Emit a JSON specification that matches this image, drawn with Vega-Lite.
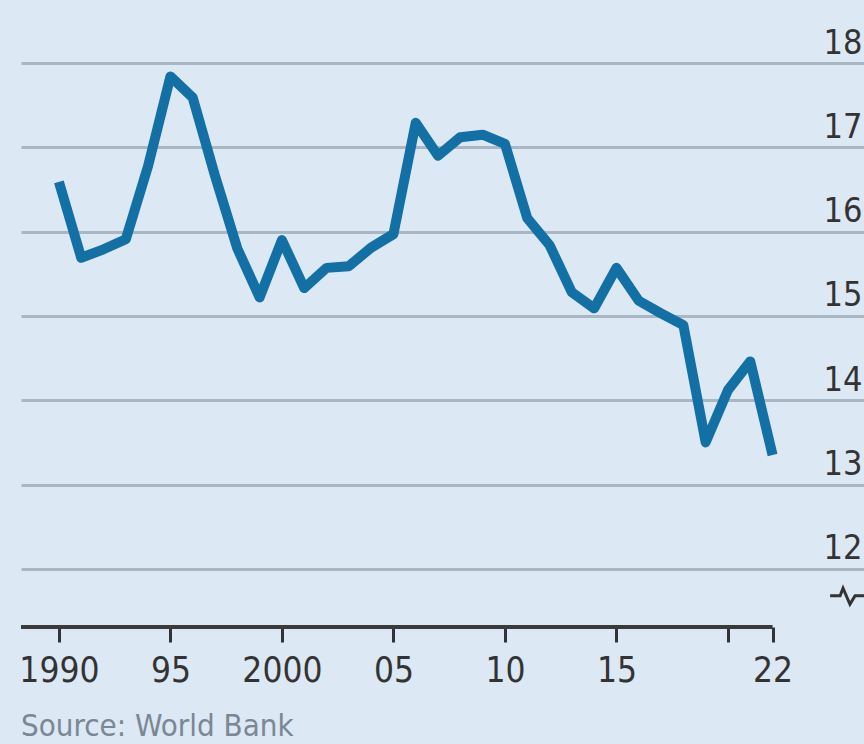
{
  "$schema": "https://vega.github.io/schema/vega-lite/v6.json",
  "width": 843,
  "height": 564,
  "autosize": {"type": "none"},
  "padding": {"left": 21, "top": 63, "right": 0, "bottom": 117},
  "background": "#dce8f4",
  "config": {"view": {"stroke": null}, "font": "'DejaVu Sans Condensed', Roboto, sans-serif"},
  "title": {
    "text": "Source: World Bank",
    "orient": "bottom",
    "anchor": "start",
    "frame": "group",
    "font": "'DejaVu Sans Condensed', Roboto, sans-serif",
    "fontSize": 31,
    "fontWeight": "normal",
    "color": "#7b8794",
    "baseline": "top",
    "offset": 24
  },
  "datasets": {
    "series": [
      {"year": 1990, "value": 16.59},
      {"year": 1991, "value": 15.69},
      {"year": 1992, "value": 15.79},
      {"year": 1993, "value": 15.91},
      {"year": 1994, "value": 16.78},
      {"year": 1995, "value": 17.84},
      {"year": 1996, "value": 17.59},
      {"year": 1997, "value": 16.66},
      {"year": 1998, "value": 15.80},
      {"year": 1999, "value": 15.22},
      {"year": 2000, "value": 15.90},
      {"year": 2001, "value": 15.33},
      {"year": 2002, "value": 15.57},
      {"year": 2003, "value": 15.59},
      {"year": 2004, "value": 15.81},
      {"year": 2005, "value": 15.97},
      {"year": 2006, "value": 17.29},
      {"year": 2007, "value": 16.90},
      {"year": 2008, "value": 17.12},
      {"year": 2009, "value": 17.15},
      {"year": 2010, "value": 17.04},
      {"year": 2011, "value": 16.16},
      {"year": 2012, "value": 15.84},
      {"year": 2013, "value": 15.28},
      {"year": 2014, "value": 15.09},
      {"year": 2015, "value": 15.57},
      {"year": 2016, "value": 15.18},
      {"year": 2017, "value": 15.03},
      {"year": 2018, "value": 14.89},
      {"year": 2019, "value": 13.50},
      {"year": 2020, "value": 14.12},
      {"year": 2021, "value": 14.46},
      {"year": 2022, "value": 13.35}
    ],
    "baseline": [{"start": 1988.3, "end": 2022}],
    "brk": [
      {"i": 1, "x": 2024.58, "y": 11.68},
      {"i": 2, "x": 2025.03, "y": 11.68},
      {"i": 3, "x": 2025.16, "y": 11.77},
      {"i": 4, "x": 2025.47, "y": 11.58},
      {"i": 5, "x": 2025.70, "y": 11.68},
      {"i": 6, "x": 2026.10, "y": 11.68}
    ]
  },
  "layer": [
    {
      "data": {"name": "series"},
      "mark": {"type": "line", "color": "#1270a4", "strokeWidth": 10, "strokeJoin": "round"},
      "encoding": {
        "x": {
          "field": "year",
          "type": "quantitative",
          "scale": {"domain": [1988.3, 2026.1], "nice": false, "zero": false},
          "axis": {
            "orient": "bottom",
            "values": [1990, 1995, 2000, 2005, 2010, 2015, 2020, 2022],
            "labelExpr": "datum.value == 2020 ? '' : (datum.value == 1990 || datum.value == 2000) ? ('' + datum.value) : slice('' + datum.value, 2)",
            "domain": false,
            "grid": false,
            "tickColor": "#333333",
            "tickWidth": 3,
            "tickSize": 15,
            "labelFont": "'DejaVu Sans Condensed', Roboto, sans-serif",
            "labelFontSize": 35,
            "labelColor": "#333333",
            "labelPadding": 11,
            "labelFlush": false,
            "labelOverlap": false,
            "title": null
          }
        },
        "y": {
          "field": "value",
          "type": "quantitative",
          "scale": {"domain": [11.31, 18], "nice": false, "zero": false},
          "axis": {
            "orient": "right",
            "values": [12, 13, 14, 15, 16, 17, 18],
            "format": "d",
            "grid": true,
            "gridColor": "#a9b6c4",
            "gridWidth": 3,
            "domain": false,
            "ticks": false,
            "labelAlign": "right",
            "labelBaseline": "alphabetic",
            "labelOffset": -10,
            "labelPadding": -2,
            "labelFont": "'DejaVu Sans Condensed', Roboto, sans-serif",
            "labelFontSize": 34,
            "labelColor": "#333333",
            "labelFlush": false,
            "labelOverlap": false,
            "labelBound": false,
            "title": null
          }
        }
      }
    },
    {
      "data": {"name": "baseline"},
      "mark": {"type": "rule", "color": "#3a3a3a", "strokeWidth": 4},
      "encoding": {
        "x": {"field": "start", "type": "quantitative"},
        "x2": {"field": "end"},
        "y": {"datum": 11.31, "type": "quantitative"}
      }
    },
    {
      "data": {"name": "brk"},
      "mark": {"type": "line", "color": "#333333", "strokeWidth": 3},
      "encoding": {
        "x": {"field": "x", "type": "quantitative"},
        "y": {"field": "y", "type": "quantitative"},
        "order": {"field": "i", "type": "quantitative"}
      }
    }
  ]
}
